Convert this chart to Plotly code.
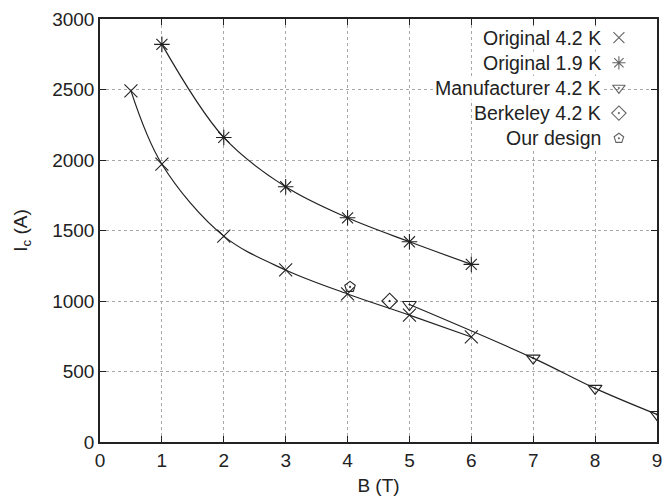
import plotly.graph_objects as go

# ---- data ----
orig42_B = [0.5, 1, 2, 3, 4, 5, 6]
orig42_I = [2490, 1970, 1460, 1220, 1050, 900, 745]
orig19_B = [1, 2, 3, 4, 5, 6]
orig19_I = [2820, 2160, 1810, 1590, 1420, 1260]
manuf_B = [5, 7, 8, 9]
manuf_I = [975, 595, 380, 195]
berk_B = [4.68]
berk_I = [1000]
ours_B = [4.04]
ours_I = [1100]

series_names = ["Original 4.2 K", "Original 1.9 K", "Manufacturer 4.2 K", "Berkeley 4.2 K", "Our design"]
series_symbols = ["x-thin-open", "asterisk-open", "triangle-down-open-dot", "diamond-open-dot", "pentagon-open-dot"]
series_sizes = [13, 13, 12, 12, 11]

x_ticks = list(range(0, 10))
y_ticks = [0, 500, 1000, 1500, 2000, 2500, 3000]

FONT = "Liberation Sans, Arial, Helvetica, sans-serif"
INK = "#222222"

fig = go.Figure()

# smooth curves
for bx, iy in [(orig42_B, orig42_I), (orig19_B, orig19_I), (manuf_B, manuf_I)]:
    fig.add_trace(go.Scatter(x=bx, y=iy, mode="lines",
                             line=dict(color=INK, width=1.2, shape="spline", smoothing=1.0),
                             showlegend=False, hoverinfo="skip"))

data_sets = [(orig42_B, orig42_I), (orig19_B, orig19_I), (manuf_B, manuf_I), (berk_B, berk_I), (ours_B, ours_I)]
for (bx, iy), name, sym, sz in zip(data_sets, series_names, series_symbols, series_sizes):
    fig.add_trace(go.Scatter(x=bx, y=iy, mode="markers", name=name,
                             marker=dict(symbol=sym, size=sz, color=INK,
                                         line=dict(color=INK, width=1.1)),
                             showlegend=False))

# custom legend (text right-aligned, symbol to the right)
row_top = 0.956
row_step = 0.0595
text_x = 0.902
key_x = 0.9316
key_y = [row_top - i * row_step for i in range(len(series_names))]
for i, (name, sym) in enumerate(zip(series_names, series_symbols)):
    fig.add_annotation(x=text_x, y=key_y[i], xref="paper", yref="paper",
                       text=name, showarrow=False, xanchor="right", yanchor="middle",
                       font=dict(family=FONT, size=19.5, color=INK),
                       bgcolor="white", borderpad=0)
fig.add_trace(go.Scatter(x=[key_x] * len(series_names), y=key_y, mode="markers",
                         xaxis="x2", yaxis="y2",
                         marker=dict(symbol=series_symbols, size=[11, 11, 11, 11, 10], color=INK,
                                     line=dict(color=INK, width=1.1)),
                         showlegend=False, hoverinfo="skip"))

axis_common = dict(
    showline=True, linecolor=INK, linewidth=1.5, mirror="ticks",
    ticks="inside", ticklen=6, tickcolor=INK, tickwidth=1,
    showgrid=True, gridcolor="#a8a8a8", gridwidth=1, griddash="dot",
    zeroline=False,
    tickfont=dict(family=FONT, size=19, color=INK),
)

fig.update_layout(
    width=667, height=499,
    margin=dict(l=100, r=5, t=19, b=57),
    paper_bgcolor="white", plot_bgcolor="white",
    showlegend=False,
    xaxis=dict(range=[0, 9], tickvals=x_ticks, **axis_common,
               title=dict(text="B (T)", font=dict(family=FONT, size=19, color=INK), standoff=9)),
    yaxis=dict(range=[0, 3000], tickvals=y_ticks, **axis_common,
               title=dict(text="I<sub>c</sub> (A)", font=dict(family=FONT, size=19, color=INK), standoff=20)),
    xaxis2=dict(range=[0, 1], overlaying="x", visible=False),
    yaxis2=dict(range=[0, 1], overlaying="y", visible=False),
)

fig.write_html("out.html")
